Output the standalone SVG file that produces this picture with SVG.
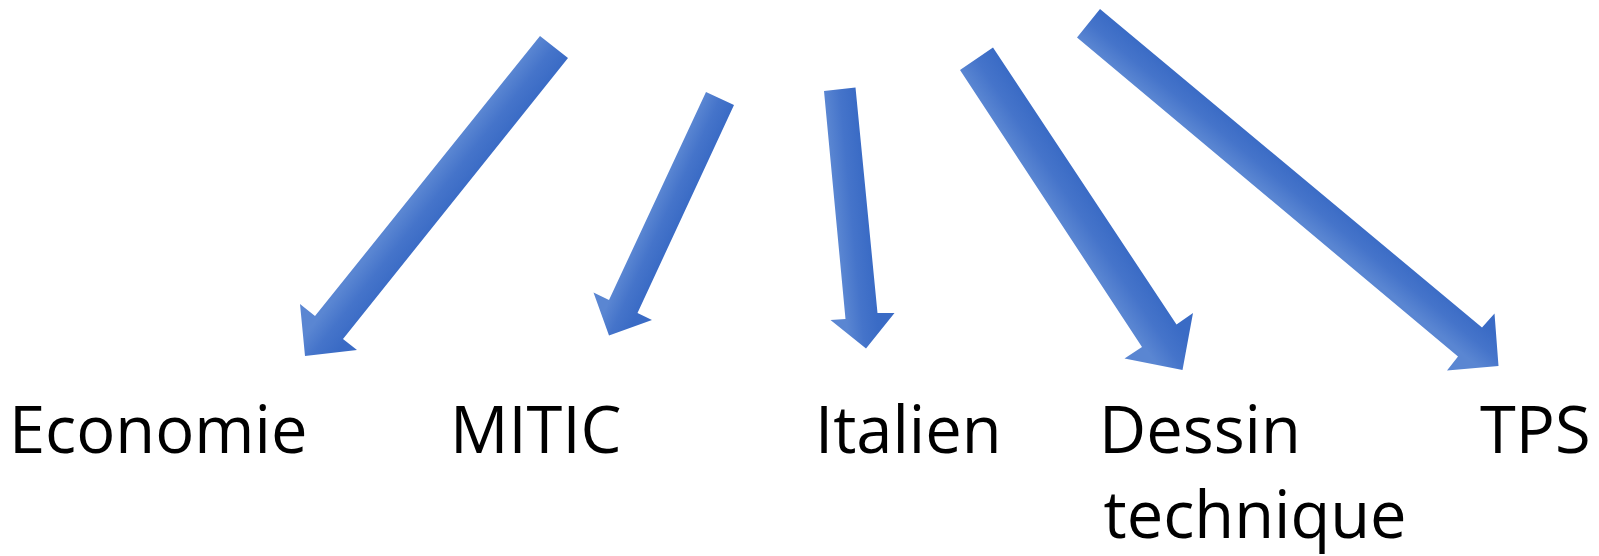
<svg xmlns="http://www.w3.org/2000/svg" width="1599" height="556" viewBox="0 0 1599 556">
  <style>
    .lbl { font-family: "Open Sans", "Noto Sans", "Liberation Sans", sans-serif; font-size: 65px; fill: #000000; }
  </style>
  <defs>
    <linearGradient id="g1" gradientUnits="userSpaceOnUse" x1="540" y1="36" x2="568" y2="58">
      <stop offset="0" stop-color="#5a86d2"/><stop offset="0.5" stop-color="#4574ca"/><stop offset="1" stop-color="#3a6bc5"/>
    </linearGradient>
    <linearGradient id="g2" gradientUnits="userSpaceOnUse" x1="706" y1="92" x2="734" y2="105">
      <stop offset="0" stop-color="#5a86d2"/><stop offset="0.5" stop-color="#4574ca"/><stop offset="1" stop-color="#3a6bc5"/>
    </linearGradient>
    <linearGradient id="g3" gradientUnits="userSpaceOnUse" x1="824" y1="91" x2="855" y2="88">
      <stop offset="0" stop-color="#5a86d2"/><stop offset="0.5" stop-color="#4574ca"/><stop offset="1" stop-color="#3a6bc5"/>
    </linearGradient>
    <linearGradient id="g4" gradientUnits="userSpaceOnUse" x1="960" y1="70" x2="993" y2="48">
      <stop offset="0" stop-color="#5a86d2"/><stop offset="0.5" stop-color="#4574ca"/><stop offset="1" stop-color="#3a6bc5"/>
    </linearGradient>
    <linearGradient id="g5" gradientUnits="userSpaceOnUse" x1="1077" y1="37" x2="1100" y2="9">
      <stop offset="0" stop-color="#5a86d2"/><stop offset="0.5" stop-color="#4574ca"/><stop offset="1" stop-color="#3a6bc5"/>
    </linearGradient>
  </defs>
  <g id="connectors">
    <polygon fill="url(#g1)" points="540,36 568,58 343,339 357,350 305,356 300,304 315,316"/>
    <polygon fill="url(#g2)" points="706,92 734,105 637.5,313 652,320 609,335.5 593.5,292.5 609,300"/>
    <polygon fill="url(#g3)" points="824,91 855.5,87.5 877.5,313 894.5,313 866,348.5 830.5,320 845.5,319"/>
    <polygon fill="url(#g4)" points="960,70 993,47.5 1176.5,324.5 1193,313 1182.5,370 1124.5,358.5 1142,347"/>
    <polygon fill="url(#g5)" points="1077,37.5 1100,9 1482,327.5 1494.5,313.5 1498.5,366 1447,370.5 1458,356.5"/>
  </g>
  <g id="node-economie"><text class="lbl" x="9" y="453">Economie</text></g>
  <g id="node-mitic"><text class="lbl" x="450" y="453">MITIC</text></g>
  <g id="node-italien"><text class="lbl" x="815" y="453">Italien</text></g>
  <g id="node-dessin"><text class="lbl" x="1099" y="453">Dessin</text><text class="lbl" x="1103.5" y="538">technique</text></g>
  <g id="node-tps"><text class="lbl" x="1480" y="453">TPS</text></g>
</svg>
